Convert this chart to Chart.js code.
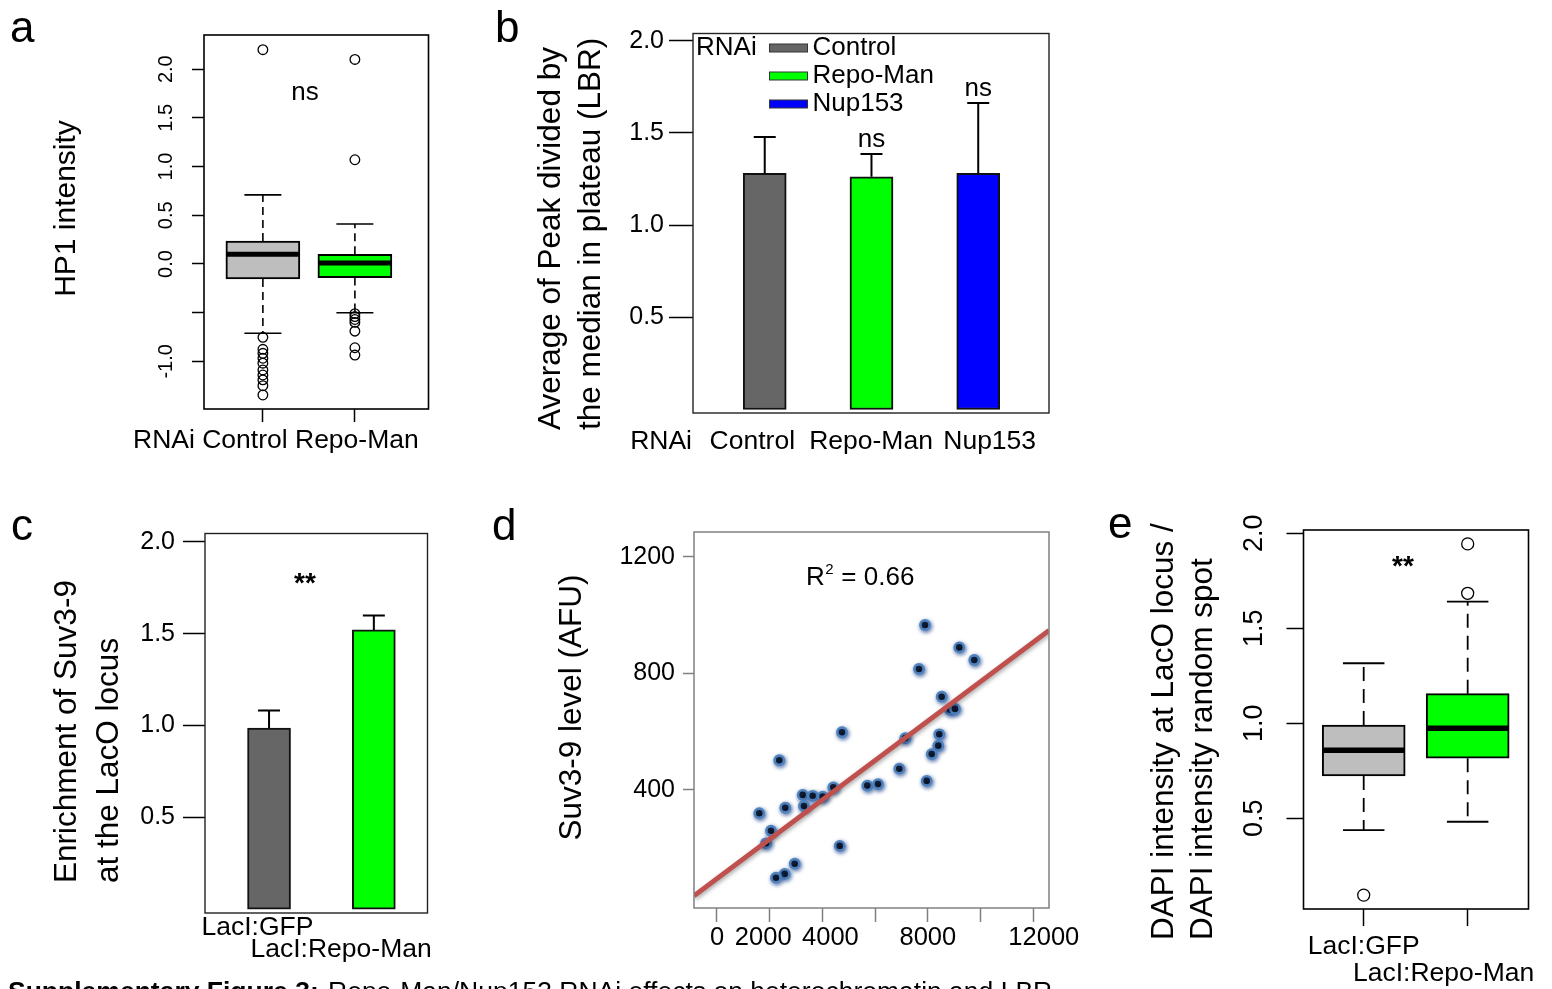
<!DOCTYPE html>
<html>
<head>
<meta charset="utf-8">
<title>Supplementary Figure 3</title>
<script src="https://cdn.jsdelivr.net/npm/chart.js@4.4.1/dist/chart.umd.min.js"></script>
<style>
  html, body { margin: 0; padding: 0; background: #fff; }
  #page { position: relative; width: 1552px; height: 989px; overflow: hidden; background: #fff; }
  #page canvas { position: absolute; left: 0; top: 0; }
</style>
</head>
<body>
<div id="page">
  <canvas id="panelA" width="1552" height="989"></canvas>
  <canvas id="panelB" width="1552" height="989"></canvas>
  <canvas id="panelC" width="1552" height="989"></canvas>
  <canvas id="panelD" width="1552" height="989"></canvas>
  <canvas id="panelE" width="1552" height="989"></canvas>
</div>
<script>
// ---------- data ----------

// a: HP1 intensity, box plot
const groupsA = ['Control', 'Repo-Man'];
const q1A = [-0.154, -0.140];
const medianA = [0.100, 0.010];
const q3A = [0.236, 0.100];
const whiskerLoA = [-0.712, -0.500];
const whiskerHiA = [0.710, 0.410];
const outliersA = [
  [2.20, -0.753, -0.876, -0.917, -0.968, -1.019, -1.088, -1.140, -1.190, -1.250, -1.345],
  [2.10, 1.07, -0.51, -0.54, -0.57, -0.60, -0.69, -0.86, -0.935]
];
const yTicksA = [-1, -0.5, 0, 0.5, 1, 1.5, 2];
const yTickLabelsA = ['-1.0', '', '0.0', '0.5', '1.0', '1.5', '2.0'];

// b: LBR peak / plateau, mean + error
const groupsB = ['Control', 'Repo-Man', 'Nup153'];
const meanB = [1.281, 1.262, 1.281];
const errB = [0.197, 0.124, 0.381];
const testB = ['', 'ns', 'ns'];
const yTicksB = [0.5, 1, 1.5, 2];

// c: Suv3-9 enrichment at LacO
const groupsC = ['LacI:GFP', 'LacI:Repo-Man'];
const meanC = [0.986, 1.520];
const errC = [0.095, 0.078];
const yTicksC = [0.5, 1, 1.5, 2];

// d: Suv3-9 level scatter + fit
const suvX = [7891, 9192, 9761, 7663, 8524, 8839, 9029, 4742, 7143, 8433,
              8395, 8145, 2363, 6916, 7955, 5702, 6108, 4412, 3251, 3630,
              4010, 3300, 2591, 1605, 2049, 1859, 4655, 2948, 2568, 2238];
const suvY = [966, 889, 846, 815, 720, 675, 678, 598, 578, 591,
              552, 523, 502, 473, 431, 415, 420, 409, 383, 380,
              377, 345, 339, 320, 260, 217, 208, 147, 112, 99];
const fitSlope = 0.0676;
const fitIntercept = 96;
const r2D = '0.66';
const xTicksD = [0, 2000, 4000, 6000, 8000, 10000, 12000];
const xTickLabelsD = ['0', '2000', '4000', '', '8000', '', '12000'];
const yTicksD = [400, 800, 1200];

// e: DAPI ratio, box plot
const groupsE = ['LacI:GFP', 'LacI:Repo-Man'];
const q1E = [0.723, 0.816];
const medianE = [0.858, 0.974];
const q3E = [0.991, 1.156];
const whiskerLoE = [0.438, 0.482];
const whiskerHiE = [1.316, 1.640];
const outliersE = [[0.096], [1.944, 1.684]];
const yTicksE = [0.5, 1, 1.5, 2];
const yTickLabelsE = ['0.5', '1.0', '1.5', '2.0'];

// ---------- setup ----------
const FONT = '"Liberation Sans", Arial, Helvetica, sans-serif';
const W = 1552, H = 989;
const BOX_FILL = ['#bebebe', '#00ff00'];
const BAR_FILL_B = ['#666666', '#00ff00', '#0000ff'];
const BAR_FILL_C = ['#666666', '#00ff00'];
// sideways shift (px) of the crowded x labels in d, as in the original
const labelNudgeD = [0, -6.5, 8, 0, 0, 0, 10.5];

Chart.defaults.font.family = FONT;
Chart.defaults.color = '#000';
Chart.defaults.animation = false;
Chart.defaults.responsive = false;
Chart.defaults.events = [];
Chart.defaults.plugins.legend.display = false;
Chart.defaults.plugins.tooltip.enabled = false;

const mctx = document.createElement('canvas').getContext('2d');
function textWidth(t, size) {
  mctx.font = size + 'px ' + FONT;
  return mctx.measureText(t).width;
}

// plot rectangle in page pixels; the y axis box runs from the page edge
// to the plot, the x axis box from the plot down to the page bottom
function layoutFor(l, t, r, b, xShown) {
  return { autoPadding: false, padding: { left: 0, top: t, right: W - r, bottom: xShown ? 0 : H - b } };
}
function widthFit(l) { return s => { s.width = l; }; }
function heightFit(b) { return s => { s.height = H - b; }; }
function fixedTicks(values) {
  return scale => { scale.ticks = values.map(v => ({ value: v })); };
}

// inline plugins
function frame(color, width) {
  return {
    id: 'frame',
    afterDatasetsDraw(chart) {
      const { left, top, right, bottom } = chart.chartArea;
      const ctx = chart.ctx;
      ctx.save();
      ctx.strokeStyle = color;
      ctx.lineWidth = width;
      ctx.strokeRect(left, top, right - left, bottom - top);
      ctx.restore();
    }
  };
}

function notes(items) {
  return {
    id: 'notes',
    afterDraw(chart) {
      const ctx = chart.ctx;
      items.forEach(it => {
        let x = it.x, y = it.y;
        if (it.dx !== undefined) x = chart.scales.x.getPixelForValue(it.dx) + (it.offX || 0);
        if (it.dy !== undefined) y = chart.scales.y.getPixelForValue(it.dy) + (it.offY || 0);
        ctx.save();
        ctx.font = (it.bold ? 'bold ' : '') + it.size + 'px ' + FONT;
        ctx.fillStyle = '#000';
        ctx.textAlign = it.align || 'left';
        ctx.textBaseline = it.base || 'middle';
        ctx.translate(x, y);
        if (it.rot) ctx.rotate(-Math.PI / 2);
        ctx.fillText(it.t, 0, 0);
        ctx.restore();
      });
    }
  };
}

// R style tick labels, turned parallel to the axis
function rotTicks(values, labels, x, size) {
  return {
    id: 'rotTicks',
    afterDraw(chart) {
      const ctx = chart.ctx, ys = chart.scales.y;
      ctx.save();
      ctx.font = size + 'px ' + FONT;
      ctx.fillStyle = '#000';
      ctx.textAlign = 'center';
      ctx.textBaseline = 'middle';
      values.forEach((v, i) => {
        ctx.save();
        ctx.translate(x, ys.getPixelForValue(v));
        ctx.rotate(-Math.PI / 2);
        ctx.fillText(labels[i], 0, 0);
        ctx.restore();
      });
      ctx.restore();
    }
  };
}

function keyBox(title, labels, colors, pos) {
  return {
    id: 'keyBox',
    afterDraw(chart) {
      const ctx = chart.ctx;
      ctx.save();
      ctx.font = pos.size + 'px ' + FONT;
      ctx.textBaseline = 'middle';
      ctx.fillStyle = '#000';
      ctx.fillText(title, pos.titleX, pos.y0);
      labels.forEach((lab, i) => {
        const y = pos.y0 + i * pos.dy;
        ctx.fillStyle = colors[i];
        ctx.fillRect(pos.boxX, y - pos.boxH / 2, pos.boxW, pos.boxH);
        ctx.strokeStyle = '#333';
        ctx.lineWidth = 1;
        ctx.strokeRect(pos.boxX, y - pos.boxH / 2, pos.boxW, pos.boxH);
        ctx.fillStyle = '#000';
        ctx.fillText(lab, pos.textX, y);
      });
      ctx.restore();
    }
  };
}

const glow = {
  id: 'glow',
  beforeDatasetDraw(chart, args) {
    const g = chart.data.datasets[args.index].glow;
    if (!g) return;
    const ctx = chart.ctx;
    ctx.save();
    ctx.shadowColor = g.color;
    ctx.shadowBlur = g.blur;
    ctx.shadowOffsetX = g.dx;
    ctx.shadowOffsetY = g.dy;
  },
  afterDatasetDraw(chart, args) {
    if (chart.data.datasets[args.index].glow) chart.ctx.restore();
  }
};

function boxplotSets(q1, med, q3, lo, hi, outliers, st) {
  const pos = q1.map((v, i) => i + 1);
  const sets = [{
    type: 'bar',
    data: pos.map((x, i) => ({ x, y: [q1[i], q3[i]] })),
    backgroundColor: BOX_FILL,
    borderColor: '#000',
    borderWidth: st.lw,
    borderSkipped: false,
    barThickness: st.box,
    order: 5
  }];
  pos.forEach((x, i) => {
    [[q3[i], hi[i]], [q1[i], lo[i]]].forEach(seg => {
      sets.push({
        type: 'line',
        data: [{ x, y: seg[0] }, { x, y: seg[1] }],
        borderColor: '#000',
        borderWidth: st.wl,
        borderDash: st.dash,
        pointRadius: 0,
        order: 4
      });
    });
  });
  sets.push({
    type: 'scatter',
    data: pos.flatMap((x, i) => [{ x, y: lo[i] }, { x, y: hi[i] }]),
    pointStyle: 'line',
    pointRadius: st.box / 4,
    pointBorderColor: '#000',
    pointBorderWidth: st.wl,
    order: 3
  });
  sets.push({
    type: 'scatter',
    data: pos.map((x, i) => ({ x, y: med[i] })),
    pointStyle: 'line',
    pointRadius: st.box / 2 - 1,
    pointBorderColor: '#000',
    pointBorderWidth: st.med,
    order: 2
  });
  sets.push({
    type: 'scatter',
    data: pos.flatMap((x, i) => outliers[i].map(y => ({ x, y }))),
    pointStyle: 'circle',
    pointRadius: st.r,
    pointBackgroundColor: 'rgba(0,0,0,0)',
    pointBorderColor: '#000',
    pointBorderWidth: 1.3,
    order: 1
  });
  return sets;
}

function barSets(means, errs, colors, barPx, capPx) {
  const pos = means.map((v, i) => i + 1);
  const sets = [{
    type: 'bar',
    data: pos.map((x, i) => ({ x, y: means[i] })),
    backgroundColor: colors,
    borderColor: '#111',
    borderWidth: 2,
    borderSkipped: false,
    barThickness: barPx,
    order: 5
  }];
  pos.forEach((x, i) => {
    sets.push({
      type: 'line',
      data: [{ x, y: means[i] }, { x, y: means[i] + errs[i] }],
      borderColor: '#000',
      borderWidth: 2,
      pointRadius: 0,
      order: 4
    });
  });
  sets.push({
    type: 'scatter',
    data: pos.map((x, i) => ({ x, y: means[i] + errs[i] })),
    pointStyle: 'line',
    pointRadius: capPx,
    pointBorderColor: '#000',
    pointBorderWidth: 2,
    order: 3
  });
  return sets;
}

function tickAxis(min, max, ticks, tickLen, fit) {
  return {
    type: 'linear', min, max, offset: false,
    afterFit: fit,
    afterBuildTicks: fixedTicks(ticks),
    ticks: { display: false },
    border: { display: false },
    grid: { offset: false, drawOnChartArea: false, tickLength: tickLen, tickColor: '#000', tickWidth: 1.5 }
  };
}

// ---------- a ----------
new Chart(document.getElementById('panelA'), {
  type: 'bar',
  data: { datasets: boxplotSets(q1A, medianA, q3A, whiskerLoA, whiskerHiA, outliersA,
          { box: 74, lw: 2, wl: 1.6, med: 5, r: 4.8, dash: [8, 5] }) },
  options: {
    devicePixelRatio: 1,
    layout: layoutFor(204, 35, 428.5, 409, true),
    scales: {
      x: tickAxis(0.36, 2.8, groupsA.map((g, i) => i + 1), 13, heightFit(409)),
      y: tickAxis(-1.489, 2.351, yTicksA, 12, widthFit(204))
    }
  },
  plugins: [
    frame('#000', 1.6),
    rotTicks(yTicksA, yTickLabelsA, 166, 20),
    notes([
      { t: 'a', x: 10, y: 42, size: 44, base: 'alphabetic' },
      { t: 'HP1 intensity', x: 67, y: 208.5, size: 30, rot: true, align: 'center' },
      { t: 'ns', x: 305, y: 93, size: 26, align: 'center' },
      { t: ['RNAi'].concat(groupsA).join(' '), x: 133, y: 441, size: 26.5 }
    ])
  ]
});

// ---------- b ----------
const plotB = [693, 33.5, 1049, 413];
const notesB = [
  { t: 'b', x: 495, y: 42, size: 44, base: 'alphabetic' },
  { t: 'Average of Peak divided by', x: 551.5, y: 430, size: 31.5, rot: true },
  { t: 'the median in plateau (LBR)', x: 591.5, y: 430, size: 31.5, rot: true },
  { t: 'RNAi', x: 692, y: 441.5, size: 26.5, align: 'right' }
];
groupsB.forEach((g, i) => {
  notesB.push({ t: g, x: plotB[0] + (i + 0.5) * (plotB[2] - plotB[0]) / groupsB.length,
                y: 441.5, size: 26.5, align: 'center' });
  if (testB[i]) notesB.push({ t: testB[i], dx: i + 1, dy: meanB[i] + errB[i], offY: -14, size: 26, align: 'center' });
});
new Chart(document.getElementById('panelB'), {
  type: 'bar',
  data: { datasets: barSets(meanB, errB, BAR_FILL_B, 43, 11) },
  options: {
    devicePixelRatio: 1,
    layout: layoutFor(plotB[0], plotB[1], plotB[2], plotB[3], false),
    scales: {
      x: { type: 'linear', display: false, min: 0.328, max: 3.663, offset: false },
      y: {
        min: -0.019, max: 2.039,
        afterFit: widthFit(plotB[0]),
        afterBuildTicks: fixedTicks(yTicksB),
        ticks: { callback: v => v.toFixed(1), font: { size: 25 }, padding: 5, color: '#000' },
        border: { display: false },
        grid: { drawOnChartArea: false, tickLength: 24, tickColor: '#000', tickWidth: 1.5 }
      }
    }
  },
  plugins: [
    frame('#222', 1.4),
    keyBox('RNAi', groupsB, BAR_FILL_B,
           { size: 26, titleX: 696, y0: 48, dy: 28, boxX: 769.5, boxW: 38, boxH: 8, textX: 812.5 }),
    notes(notesB)
  ]
});

// ---------- c ----------
new Chart(document.getElementById('panelC'), {
  type: 'bar',
  data: { datasets: barSets(meanC, errC, BAR_FILL_C, 43, 11) },
  options: {
    devicePixelRatio: 1,
    layout: layoutFor(205, 533.5, 427.5, 913, false),
    scales: {
      x: { type: 'linear', display: false, min: 0.389, max: 2.512, offset: false },
      y: {
        min: -0.021, max: 2.045,
        afterFit: widthFit(205),
        afterBuildTicks: fixedTicks(yTicksC),
        ticks: { callback: v => v.toFixed(1), font: { size: 25 }, padding: 8, color: '#000' },
        border: { display: false },
        grid: { drawOnChartArea: false, tickLength: 22, tickColor: '#000', tickWidth: 1.5 }
      }
    }
  },
  plugins: [
    frame('#222', 1.4),
    notes([
      { t: 'c', x: 11, y: 540, size: 44, base: 'alphabetic' },
      { t: 'Enrichment of Suv3-9', x: 67.5, y: 883, size: 31.5, rot: true },
      { t: 'at the LacO locus', x: 109, y: 883, size: 31.5, rot: true },
      { t: '**', x: 305, y: 592, size: 28, bold: true, align: 'center', base: 'alphabetic' },
      { t: groupsC[0], x: 201.5, y: 928, size: 26.5 },
      { t: groupsC[1], x: 250.5, y: 950, size: 26.5 },
      { t: 'Supplementary Figure 3:', x: 8, y: 1000, size: 26.5, bold: true, base: 'alphabetic' },
      { t: 'Repo-Man/Nup153 RNAi effects on heterochromatin and LBR', x: 328, y: 1000, size: 26.5, base: 'alphabetic' }
    ])
  ]
});

// ---------- d ----------
const xMinD = -872, xMaxD = 12595;
const wR = textWidth('R', 26), w2 = textWidth('2', 15);
const notesD = [
  { t: 'd', x: 492, y: 540, size: 44, base: 'alphabetic' },
  { t: 'Suv3-9 level (AFU)', x: 572.5, y: 707.5, size: 31.5, rot: true, align: 'center' },
  { t: 'R', x: 806, y: 585, size: 26, base: 'alphabetic' },
  { t: '2', x: 806 + wR + 0.5, y: 574, size: 15, base: 'alphabetic' },
  { t: ' = ' + r2D, x: 806 + wR + w2 + 1, y: 585, size: 26, base: 'alphabetic' }
];
xTicksD.forEach((v, i) => {
  if (xTickLabelsD[i]) notesD.push({ t: xTickLabelsD[i], dx: v, offX: labelNudgeD[i], y: 937.5, size: 25.5, align: 'center' });
});
new Chart(document.getElementById('panelD'), {
  type: 'scatter',
  data: {
    datasets: [
      {
        type: 'line',
        data: [xMinD, xMaxD].map(x => ({ x, y: fitIntercept + fitSlope * x })),
        borderColor: '#c0504d',
        borderWidth: 4.8,
        pointRadius: 0,
        glow: { color: 'rgba(0,0,0,0.35)', blur: 4, dx: 1, dy: 2 },
        order: 1
      },
      {
        type: 'scatter',
        data: suvX.map((x, i) => ({ x, y: suvY[i] })),
        pointRadius: 4.6,
        pointBackgroundColor: '#000',
        pointBorderColor: '#4f81bd',
        pointBorderWidth: 2.6,
        glow: { color: 'rgba(40,80,150,0.8)', blur: 4, dx: 1, dy: 1.5 },
        order: 2
      }
    ]
  },
  options: {
    devicePixelRatio: 1,
    layout: layoutFor(694, 532, 1049, 908, true),
    scales: {
      x: {
        type: 'linear', min: xMinD, max: xMaxD,
        afterFit: heightFit(908),
        afterBuildTicks: fixedTicks(xTicksD),
        ticks: { display: false },
        border: { display: false },
        grid: { drawOnChartArea: false, tickLength: 14, tickColor: '#808080', tickWidth: 1.5 }
      },
      y: {
        type: 'linear', min: -5, max: 1285,
        afterFit: widthFit(694),
        afterBuildTicks: fixedTicks(yTicksD),
        ticks: { callback: v => String(v), font: { size: 25 }, padding: 8, color: '#000' },
        border: { display: false },
        grid: { drawOnChartArea: false, tickLength: 11, tickColor: '#808080', tickWidth: 1.5 }
      }
    }
  },
  plugins: [
    glow,
    frame('#808080', 1.5),
    notes(notesD)
  ]
});

// ---------- e ----------
new Chart(document.getElementById('panelE'), {
  type: 'bar',
  data: { datasets: boxplotSets(q1E, medianE, q3E, whiskerLoE, whiskerHiE, outliersE,
          { box: 83, lw: 2, wl: 1.8, med: 5.5, r: 6, dash: [14, 8] }) },
  options: {
    devicePixelRatio: 1,
    layout: layoutFor(1303.5, 530, 1528.5, 909, true),
    scales: {
      x: tickAxis(0.421, 2.585, groupsE.map((g, i) => i + 1), 17, heightFit(909)),
      y: tickAxis(0.023, 2.017, yTicksE, 17, widthFit(1303.5))
    }
  },
  plugins: [
    frame('#000', 1.6),
    rotTicks(yTicksE, yTickLabelsE, 1255, 27),
    notes([
      { t: 'e', x: 1108, y: 538, size: 44, base: 'alphabetic' },
      { t: 'DAPI intensity at LacO locus /', x: 1164, y: 940, size: 31.5, rot: true },
      { t: 'DAPI intensity random spot', x: 1203, y: 940, size: 31.5, rot: true },
      { t: '**', x: 1403, y: 575, size: 28, bold: true, align: 'center', base: 'alphabetic' },
      { t: groupsE[0], dx: 1, y: 946.5, size: 26.5, align: 'center' },
      { t: groupsE[1], x: 1353, y: 973.5, size: 26.5 }
    ])
  ]
});
</script>
</body>
</html>
